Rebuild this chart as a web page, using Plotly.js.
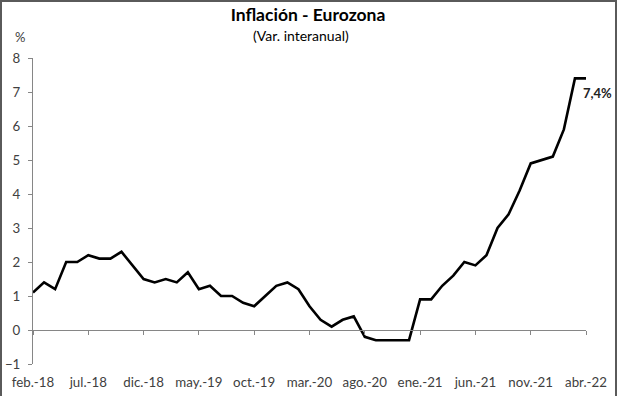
<!DOCTYPE html>
<html>
<head>
<meta charset="utf-8">
<script src="https://cdn.plot.ly/plotly-3.0.1.min.js"></script>
<style>
  html, body { margin: 0; padding: 0; background: #fff; }
  #wrap { position: relative; width: 617px; height: 396px; }
  #chart { width: 617px; height: 396px; }
  #frame { position: absolute; left: 0; top: 0; width: 617px; height: 396px; box-sizing: border-box;
           border-left: 2px solid #5a5a5a; border-right: 2px solid #5a5a5a; border-top: 2px solid #5a5a5a;
           pointer-events: none; }
</style>
</head>
<body>
<div id="wrap"><div id="chart"></div><div id="frame"></div></div>
<script>
// Monthly categories feb-18 .. abr-22
const months = [
  "feb.-18","mar.-18","abr.-18","may.-18","jun.-18","jul.-18","ago.-18","sep.-18","oct.-18","nov.-18","dic.-18",
  "ene.-19","feb.-19","mar.-19","abr.-19","may.-19","jun.-19","jul.-19","ago.-19","sep.-19","oct.-19","nov.-19","dic.-19",
  "ene.-20","feb.-20","mar.-20","abr.-20","may.-20","jun.-20","jul.-20","ago.-20","sep.-20","oct.-20","nov.-20","dic.-20",
  "ene.-21","feb.-21","mar.-21","abr.-21","may.-21","jun.-21","jul.-21","ago.-21","sep.-21","oct.-21","nov.-21","dic.-21",
  "ene.-22","feb.-22","mar.-22","abr.-22"
];
// Year-on-year inflation, %
const inflation = [
  1.1,1.4,1.2,2.0,2.0,2.2,2.1,2.1,2.3,1.9,1.5,
  1.4,1.5,1.4,1.7,1.2,1.3,1.0,1.0,0.8,0.7,1.0,1.3,
  1.4,1.2,0.7,0.3,0.1,0.3,0.4,-0.2,-0.3,-0.3,-0.3,-0.3,
  0.9,0.9,1.3,1.6,2.0,1.9,2.2,3.0,3.4,4.1,4.9,5.0,
  5.1,5.9,7.4,7.4
];
const tickLabels = ["feb.-18","jul.-18","dic.-18","may.-19","oct.-19","mar.-20","ago.-20","ene.-21","jun.-21","nov.-21","abr.-22"];
const yTicks = [-1,0,1,2,3,4,5,6,7,8];
const lastLabel = "7,4%";

const FONT = "Lato, 'Open Sans', sans-serif";
const AX = "#868686";
const yMin = -1, yMax = 8;

const trace = {
  x: months, y: inflation, type: "scatter", mode: "lines",
  line: { color: "#000", width: 2.6 }, hoverinfo: "skip", showlegend: false
};
// invisible trace to carry the zero-line axis (x2)
const trace2 = {
  x: months, y: inflation, xaxis: "x2", yaxis: "y", type: "scatter", mode: "lines",
  line: { color: "rgba(0,0,0,0)", width: 0 }, hoverinfo: "skip", showlegend: false
};

const layout = {
  width: 617, height: 396,
  margin: { l: 33, r: 31, t: 58, b: 32 },
  paper_bgcolor: "#fff", plot_bgcolor: "#fff",
  font: { family: FONT, size: 13, color: "#404040" },
  title: {
    text: "<b>Inflación - Eurozona</b>",
    font: { family: FONT, size: 17.5, color: "#000" },
    xref: "container", yref: "container", x: 308/617, y: 1 - 15/396,
    xanchor: "center", yanchor: "middle"
  },
  xaxis: {
    type: "category", range: [0, months.length - 1],
    tickmode: "array", tickvals: tickLabels, ticktext: tickLabels,
    showline: false, showgrid: false, zeroline: false,
    ticks: "outside", ticklen: 6, tickcolor: "rgba(0,0,0,0)",
    tickfont: { family: FONT, size: 13.3, color: "#404040" }
  },
  xaxis2: {
    type: "category", overlaying: "x", anchor: "free",
    position: (0 - yMin) / (yMax - yMin),
    range: [0, months.length - 1],
    tickmode: "array", tickvals: tickLabels,
    showticklabels: false, showline: true, linecolor: AX, linewidth: 1,
    ticks: "outside", ticklen: 4, tickcolor: AX, tickwidth: 1,
    showgrid: false, zeroline: false
  },
  yaxis: {
    range: [yMin, yMax], tickmode: "array", tickvals: yTicks,
    showline: true, linecolor: AX, linewidth: 1,
    ticks: "outside", ticklen: 4, tickcolor: AX,
    showgrid: false, zeroline: false, ticklabelstandoff: 5,
    tickfont: { family: FONT, size: 13.3, color: "#404040" }
  },
  annotations: [
    { text: "(Var. interanual)", xref: "paper", yref: "paper",
      x: (301 - 33) / 553, y: (364 - 35) / 306, xanchor: "center", yanchor: "middle",
      showarrow: false, font: { family: FONT, size: 14, color: "#000" } },
    { text: "%", xref: "paper", yref: "paper",
      x: (20 - 33) / 553, y: (364 - 37) / 306, xanchor: "center", yanchor: "middle",
      showarrow: false, font: { family: FONT, size: 13, color: "#404040" } },
    { text: "<b>" + lastLabel + "</b>", xref: "x", yref: "y",
      x: months[months.length - 1], y: inflation[inflation.length - 1],
      xanchor: "left", yanchor: "middle", xshift: -5, yshift: -15,
      showarrow: false, font: { family: FONT, size: 13, color: "#222" } }
  ]
};

Plotly.newPlot("chart", [trace, trace2], layout, { displayModeBar: false, staticPlot: true });
</script>
</body>
</html>
